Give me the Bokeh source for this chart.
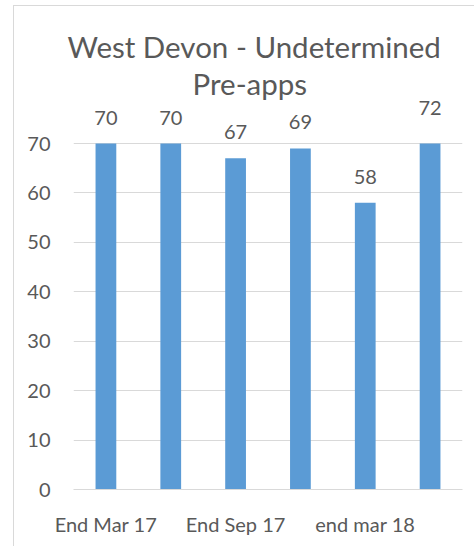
import numpy as np
from bokeh.plotting import figure
from bokeh.models import ColumnDataSource, LabelSet, FixedTicker, Range1d, Title
from bokeh.core.properties import value
from bokeh.embed import file_html
from bokeh.resources import INLINE

categories = ["End Mar 17", "End Jun 17", "End Sep 17", "End Dec 17", "end mar 18", "end jun 18"]
values = [70, 70, 67, 69, 58, 72]
shown_labels = ["End Mar 17", "End Sep 17", "end mar 18"]
y_ticks = [0, 10, 20, 30, 40, 50, 60, 70]
axis_max = 70
title_lines = ["West Devon - Undetermined", "Pre-apps"]

FONT = "Lato"
TXT = "#595959"
GRID = "#d9d9d9"
BAR = "#5b9bd5"

xpos = np.arange(len(categories)) + 0.5
src = ColumnDataSource(dict(
    x=xpos,
    val=values,
    top=np.minimum(values, axis_max),
    lab=[str(v) for v in values],
))

p = figure(x_range=Range1d(0, len(categories)), y_range=Range1d(0, 78.7),
           width=474, height=546,
           output_backend="svg", toolbar_location=None,
           min_border_left=73, min_border_right=12, min_border_bottom=57, min_border_top=100)

p.vbar(x="x", top="top", width=0.32, source=src, color=BAR, line_color=None)

p.add_layout(LabelSet(x="x", y="val", text="lab", source=src, y_offset=19,
                      text_align="center", text_baseline="alphabetic",
                      text_font=value(FONT), text_font_size="20px", text_color=TXT))

# first title line (outermost)
p.title.text = title_lines[0]
p.title.align = "left"
p.title.offset = -6
p.title.standoff = 0
p.title.text_font = FONT
p.title.text_font_size = "29.5px"
p.title.text_font_style = "normal"
p.title.text_color = TXT
p.title.text_line_height = 1.0

# second title line (closest to the frame)
p.add_layout(Title(text=title_lines[1], align="left", offset=119, standoff=0,
                   text_font=FONT, text_font_size="29.5px", text_font_style="normal",
                   text_color=TXT, text_line_height=1.0), "above")

p.outline_line_color = None
p.background_fill_color = "white"
p.border_fill_color = None
p.styles = {
    "background": "linear-gradient(#d9d9d9, #d9d9d9) 13px 5px / 1px 100% no-repeat, "
                  "linear-gradient(#d9d9d9, #d9d9d9) 13px 5px / 100% 1px no-repeat, white",
}

p.xgrid.grid_line_color = None
p.ygrid.grid_line_color = GRID
p.ygrid.ticker = FixedTicker(ticks=y_ticks)

p.yaxis.ticker = FixedTicker(ticks=y_ticks)
p.yaxis.axis_line_color = None
p.yaxis.major_tick_line_color = None
p.yaxis.minor_tick_line_color = None
p.yaxis.major_tick_out = 0
p.yaxis.major_tick_in = 0
p.yaxis.major_label_standoff = 23
p.yaxis.major_label_text_font = FONT
p.yaxis.major_label_text_font_size = "20px"
p.yaxis.major_label_text_color = TXT

shown_pos = [float(xpos[categories.index(c)]) for c in shown_labels]
p.xaxis.ticker = FixedTicker(ticks=shown_pos)
p.xaxis.major_label_overrides = {pos: lab for pos, lab in zip(shown_pos, shown_labels)}
p.xaxis.axis_line_color = GRID
p.xaxis.major_tick_line_color = None
p.xaxis.minor_tick_line_color = None
p.xaxis.major_tick_out = 0
p.xaxis.major_tick_in = 0
p.xaxis.major_label_standoff = 22
p.xaxis.major_label_text_font = FONT
p.xaxis.major_label_text_font_size = "20px"
p.xaxis.major_label_text_color = TXT

open("out.html", "w").write(file_html(p, INLINE))
